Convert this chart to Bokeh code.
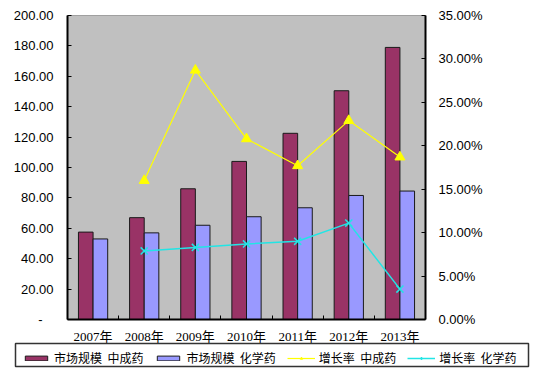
import numpy as np
from bokeh.plotting import figure
from bokeh.models import (Range1d, LinearAxis, FixedTicker, NumeralTickFormatter,
                          Legend, LegendItem, ColumnDataSource)
from bokeh.embed import file_html
from bokeh.resources import INLINE

# ---- data ----
years = ["2007年", "2008年", "2009年", "2010年", "2011年", "2012年", "2013年"]
size_tcm = [57.5, 67.0, 86.0, 104.0, 122.5, 150.5, 179.0]      # 市场规模 中成药
size_chem = [53.0, 57.0, 62.0, 67.6, 73.5, 81.6, 84.5]          # 市场规模 化学药
growth_tcm = [np.nan, 0.160, 0.287, 0.208, 0.177, 0.229, 0.187]  # 增长率 中成药
growth_chem = [np.nan, 0.079, 0.083, 0.087, 0.090, 0.111, 0.035]  # 增长率 化学药
series_names = ["市场规模\u00a0\u00a0中成药", "市场规模\u00a0\u00a0化学药",
                "增长率\u00a0\u00a0中成药", "增长率\u00a0\u00a0化学药"]
left_ticks = [0, 20, 40, 60, 80, 100, 120, 140, 160, 180, 200]
right_ticks = [0.0, 0.05, 0.10, 0.15, 0.20, 0.25, 0.30, 0.35]

n = len(years)
xc = np.arange(n) + 0.5
bw = 0.286
src = ColumnDataSource(dict(
    x=xc, xa=xc - bw / 2, xb=xc + bw / 2,
    tcm=size_tcm, chem=size_chem, gt=growth_tcm, gc=growth_chem))

W, H = 538, 346
p = figure(width=W, height=H, output_backend="svg", toolbar_location=None,
           x_range=Range1d(0, n), y_range=Range1d(0, 200),
           min_border_left=67, min_border_right=W - 425, min_border_top=15,
           min_border_bottom=H - 319, x_axis_location="below")
p.extra_y_ranges = {"pct": Range1d(0, 0.35)}
p.border_fill_color = "white"
p.background_fill_color = "#C0C0C0"
p.outline_line_color = "#A0A0A0"
p.xgrid.visible = False
p.ygrid.visible = False

LABEL_FONT = "'Liberation Sans', Arial, sans-serif"

# x axis
xa = p.xaxis[0]
xa.ticker = FixedTicker(ticks=list(xc), minor_ticks=list(range(1, n)))
xa.major_label_overrides = {float(v): years[i] for i, v in enumerate(xc)}
xa.major_tick_line_color = None
xa.minor_tick_in = 4
xa.minor_tick_out = 0
xa.minor_tick_line_color = "black"
xa.axis_line_width = 2
xa.axis_line_color = "black"
xa.major_label_standoff = 3
xa.major_label_text_font = "'Liberation Serif', 'Noto Sans CJK SC', serif"
xa.major_label_text_font_size = "13px"
xa.major_label_text_color = "black"

# left axis
ya = p.yaxis[0]
ya.ticker = FixedTicker(ticks=left_ticks)
ya.formatter = NumeralTickFormatter(format="0.00")
ya.major_label_overrides = {0: "-\u00a0\u00a0\u00a0"}
ya.major_tick_in = 4
ya.major_tick_out = 0
ya.minor_tick_line_color = None
ya.axis_line_width = 2
ya.axis_line_color = "black"
ya.major_label_standoff = 14
ya.major_label_text_font = LABEL_FONT
ya.major_label_text_font_size = "13px"
ya.major_label_text_color = "black"

# right axis
ra = LinearAxis(y_range_name="pct", ticker=FixedTicker(ticks=right_ticks),
                formatter=NumeralTickFormatter(format="0.00%"))
ra.major_tick_in = 4
ra.major_tick_out = 0
ra.minor_tick_line_color = None
ra.axis_line_width = 2
ra.axis_line_color = "black"
ra.major_label_standoff = 13
ra.major_label_text_font = LABEL_FONT
ra.major_label_text_font_size = "13px"
ra.major_label_text_color = "black"
p.add_layout(ra, "right")

BAR1, BAR2, YEL, CYA = "#993366", "#9999FF", "#FFFF00", "#22E5E5"
EDGE = "#1a1a1a"

# bars
p.vbar(x="xa", top="tcm", width=bw, source=src, fill_color=BAR1, line_color=EDGE, line_width=1)
p.vbar(x="xb", top="chem", width=bw, source=src, fill_color=BAR2, line_color=EDGE, line_width=1)

# growth lines
p.line(x="x", y="gt", source=src, y_range_name="pct", line_color=YEL, line_width=1.2)
p.scatter(x="x", y="gt", source=src, y_range_name="pct", marker="triangle",
          size=10, fill_color=YEL, line_color=YEL)
p.line(x="x", y="gc", source=src, y_range_name="pct", line_color=CYA, line_width=1.5)
p.scatter(x="x", y="gc", source=src, y_range_name="pct", marker="x",
          size=10, line_color=CYA, line_width=1.5)

# ---- legend strip: its frame outline is the legend box ----
LH = 40
TOP_OVERLAP = H + LH - 382 + 1      # strip starts at y = 341
lg = figure(width=W, height=LH, output_backend="svg", toolbar_location=None,
            x_axis_type=None, y_axis_type=None,
            min_border_left=15, min_border_right=W - 528, min_border_top=2,
            min_border_bottom=LH - 2 - 23,
            x_range=Range1d(0, 1), y_range=Range1d(0, 1))
lg.margin = (-TOP_OVERLAP, 0, 0, 0)
lg.outline_line_color = "#333333"
lg.outline_line_width = 1.5
lg.outline_line_alpha = 1.0
lg.xgrid.visible = False
lg.ygrid.visible = False
lg.background_fill_color = None
lg.border_fill_color = None
off = [-5.0]   # legend key glyphs only; placed outside the visible range
k1 = lg.vbar(x=off, top=off, width=0.1, fill_color=BAR1, line_color=EDGE, line_width=1)
k2 = lg.vbar(x=off, top=off, width=0.1, fill_color=BAR2, line_color=EDGE, line_width=1)
k3 = lg.line(x=off, y=off, line_color=YEL, line_width=1.2)
k3m = lg.scatter(x=off, y=off, marker="triangle", size=10, fill_color=YEL, line_color=YEL)
k4 = lg.line(x=off, y=off, line_color=CYA, line_width=1.5)
k4m = lg.scatter(x=off, y=off, marker="x", size=8, line_color=CYA, line_width=1.5)

legend = Legend(items=[
    LegendItem(label=series_names[0], renderers=[k1]),
    LegendItem(label=series_names[1], renderers=[k2]),
    LegendItem(label=series_names[2], renderers=[k3, k3m]),
    LegendItem(label=series_names[3], renderers=[k4, k4m]),
], orientation="horizontal", location=(7, 0), margin=0, padding=3,
    spacing=11, glyph_width=28, glyph_height=6, label_standoff=4,
    label_height=13, label_text_font="'Noto Sans CJK SC', sans-serif",
    label_text_font_size="12px", label_text_color="black",
    border_line_color=None, background_fill_alpha=0.0)
lg.add_layout(legend, "center")

open("out.html", "w").write(file_html([p, lg], INLINE))
